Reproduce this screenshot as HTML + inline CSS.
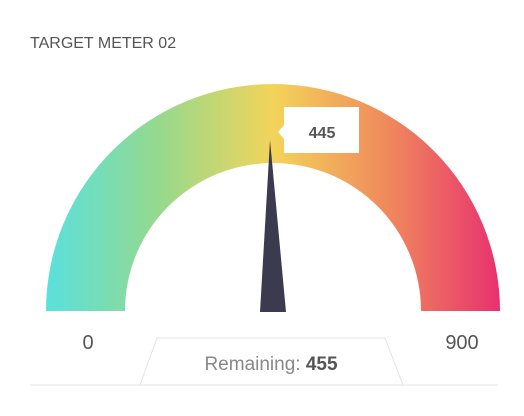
<!DOCTYPE html>
<html><head><meta charset="utf-8"><style>
html,body{margin:0;padding:0;background:#fff;width:524px;height:416px;overflow:hidden}
text{font-family:"Liberation Sans",sans-serif}
</style></head><body>
<svg width="524" height="416" viewBox="0 0 524 416">
<defs>
<linearGradient id="g" x1="46" y1="0" x2="500" y2="0" gradientUnits="userSpaceOnUse">
<stop offset="0" stop-color="#5ae0de"/>
<stop offset="0.25" stop-color="#96d98c"/>
<stop offset="0.5" stop-color="#f3d45a"/>
<stop offset="0.75" stop-color="#f08a5c"/>
<stop offset="1" stop-color="#e7316e"/>
</linearGradient>
</defs>
<text x="30" y="48" font-size="16" fill="#555">TARGET METER 02</text>
<path id="arc" fill="url(#g)"/>
<polygon id="needle" fill="#3c3a4e"/>
<g id="tip">
<path id="tipbox" fill="#fff"/>
<text id="tiptext" font-size="16" font-weight="bold" fill="#555" text-anchor="middle"></text>
</g>
<text id="minl" x="88" y="349" font-size="20" fill="#555" text-anchor="middle"></text>
<text id="maxl" x="462" y="349" font-size="20" fill="#555" text-anchor="middle"></text>
<line x1="30" y1="385" x2="498" y2="385" stroke="#e6e6e6" stroke-width="1"/>
<polygon points="157,338 385,338 403,385 140,385" fill="#fff" stroke="#e3e3e3" stroke-width="1"/>
<text x="271" y="370" font-size="19" fill="#888" text-anchor="middle">Remaining: <tspan id="rem" font-weight="bold" fill="#555"></tspan></text>
</svg>
<script>
const minValue=[0];
const maxValue=[900];
const currentValue=[445];
const cx=273,cy=311,R=227,r=148;
function ang(v){return Math.PI*(1-(v-minValue[0])/(maxValue[0]-minValue[0]));}
document.getElementById('arc').setAttribute('d',`M${cx-R},${cy} A${R},${R} 0 0 1 ${cx+R},${cy} L${cx+r},${cy} A${r},${r} 0 0 0 ${cx-r},${cy} Z`);
const a=ang(currentValue[0]);
const L=171;
const tx=cx+L*Math.cos(a),ty=cy-L*Math.sin(a);
const bx=cx,by=cy+1;
document.getElementById('needle').setAttribute('points',`${tx},${ty} ${bx+13},${by} ${bx-13},${by}`);
const lx=tx+8,ly=ty-8;
document.getElementById('tipbox').setAttribute('d',`M${lx},${ly} L${lx+6},${ly-7} L${lx+6},${ly-25} L${lx+81},${ly-25} L${lx+81},${ly+21} L${lx+6},${ly+21} L${lx+6},${ly+7} Z`);
const tt=document.getElementById('tiptext');
tt.setAttribute('x',lx+44);tt.setAttribute('y',ly+6);tt.textContent=currentValue[0];
document.getElementById('minl').textContent=minValue[0];
document.getElementById('maxl').textContent=maxValue[0];
document.getElementById('rem').textContent=maxValue[0]-currentValue[0];
</script>
</body></html>
